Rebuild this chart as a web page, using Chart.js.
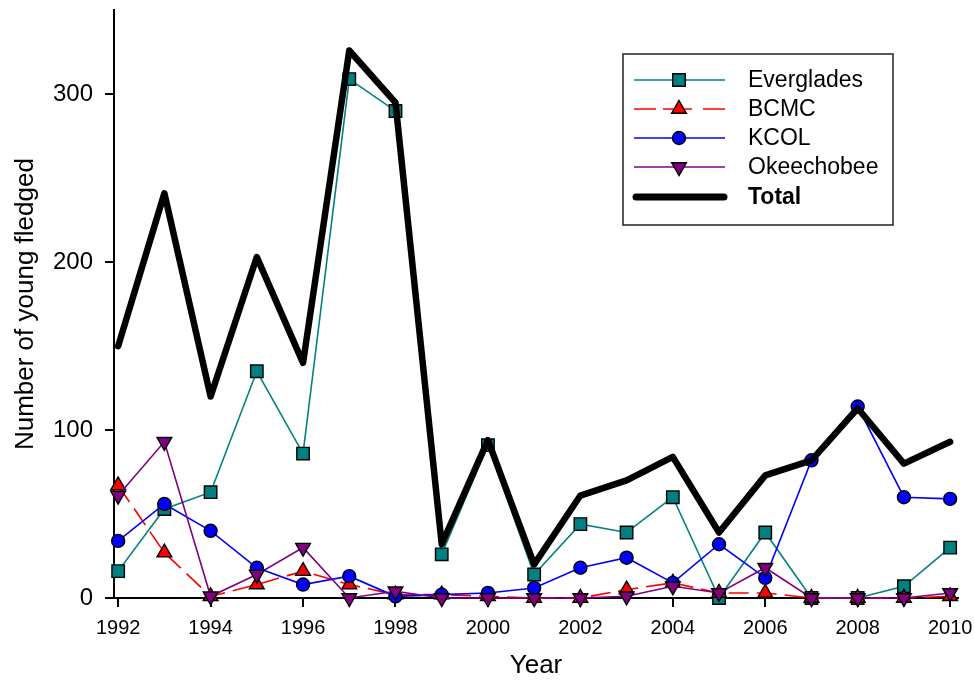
<!DOCTYPE html>
<html>
<head>
<meta charset="utf-8">
<script src="https://cdn.jsdelivr.net/npm/chart.js@4.4.1/dist/chart.umd.min.js"></script>
<style>
  html, body { margin: 0; padding: 0; background: #fff; }
  #wrap { width: 975px; height: 686px; position: relative; }
</style>
</head>
<body>
<div id="wrap"><canvas id="c" width="975" height="686"></canvas></div>
<script>
const years = [1992,1993,1994,1995,1996,1997,1998,1999,2000,2001,2002,2003,2004,2005,2006,2007,2008,2009,2010];
const everglades = [16,53,63,135,86,309,290,26,91,14,44,39,60,0,39,0,0,7,30];
const bcmc       = [67,27,1,8,16,8,2,2,1,0,0,5,9,3,3,0,0,0,1];
const kcol       = [34,56,40,18,8,13,1,2,3,6,18,24,9,32,12,82,114,60,59];
const okeechobee = [61,93,1,14,30,0,4,0,0,0,0,1,7,3,18,0,0,0,3];
const total      = [150,241,120,203,140,326,295,32,94,20,61,70,84,39,73,82,113,80,93];
const xTickLabels = [1992,1994,1996,1998,2000,2002,2004,2006,2008,2010];
const yTickLabels = [0,100,200,300];

const FONT = "'Liberation Sans', Arial, Helvetica, sans-serif";
const pts = arr => years.map((yr, i) => ({x: yr, y: arr[i]}));

const datasets = [
  { label: 'Everglades', data: pts(everglades), borderColor: '#008080', backgroundColor: '#008080',
    borderWidth: 1.6, pointStyle: 'rect', pointRadius: 8.8, pointBackgroundColor: '#008080',
    pointBorderColor: '#000', pointBorderWidth: 1.4, order: 4, clip: false },
  { label: 'BCMC', data: pts(bcmc), borderColor: '#ff0000', backgroundColor: '#ff0000',
    borderWidth: 1.6, borderDash: [20, 8], pointStyle: 'triangle', pointRadius: 8.5,
    pointBackgroundColor: '#ff0000', pointBorderColor: '#000', pointBorderWidth: 1.4, order: 3, clip: false },
  { label: 'KCOL', data: pts(kcol), borderColor: '#0000ff', backgroundColor: '#0000ff',
    borderWidth: 1.6, pointStyle: 'circle', pointRadius: 6.5, pointBackgroundColor: '#0000ff',
    pointBorderColor: '#000', pointBorderWidth: 1.4, order: 2, clip: false },
  { label: 'Okeechobee', data: pts(okeechobee), borderColor: '#800080', backgroundColor: '#800080',
    borderWidth: 1.6, pointStyle: 'triangle', pointRotation: 180, pointRadius: 8.5,
    pointBackgroundColor: '#800080', pointBorderColor: '#000', pointBorderWidth: 1.4, order: 1, clip: false },
  { label: 'Total', data: pts(total), borderColor: '#000', backgroundColor: '#000',
    borderWidth: 6.5, pointRadius: 0, borderJoinStyle: 'round', borderCapStyle: 'round', order: 0, clip: false }
];

const legendPlugin = {
  id: 'boxLegend',
  afterDraw(chart) {
    const ctx = chart.ctx;
    ctx.save();
    ctx.strokeStyle = '#222';
    ctx.lineWidth = 1.5;
    ctx.strokeRect(623, 54, 270, 171);
    const rowY = [80, 109, 138, 167, 197];
    chart.data.datasets.forEach((ds, i) => {
      const y = rowY[i];
      ctx.save();
      ctx.strokeStyle = ds.borderColor;
      ctx.lineWidth = ds.label === 'Total' ? 7 : 1.6;
      ctx.lineCap = ds.label === 'Total' ? 'round' : 'butt';
      if (ds.borderDash) ctx.setLineDash(ds.borderDash);
      ctx.beginPath();
      if (ds.label === 'Total') { ctx.moveTo(636, y); ctx.lineTo(724, y); }
      else if (ds.borderDash) { ctx.setLineDash([]); 
        ctx.moveTo(634, y); ctx.lineTo(656, y);
        ctx.moveTo(663, y); ctx.lineTo(692, y);
        ctx.moveTo(703, y); ctx.lineTo(725, y); }
      else { ctx.moveTo(634, y); ctx.lineTo(725, y); }
      ctx.stroke();
      ctx.restore();
      if (ds.pointRadius > 0) {
        ctx.save();
        ctx.fillStyle = ds.pointBackgroundColor;
        ctx.strokeStyle = ds.pointBorderColor;
        ctx.lineWidth = ds.pointBorderWidth;
        Chart.helpers.drawPoint(ctx, {pointStyle: ds.pointStyle, radius: ds.pointRadius,
          rotation: ds.pointRotation || 0, borderWidth: ds.pointBorderWidth}, 679, y);
        ctx.restore();
      }
      ctx.fillStyle = '#000';
      ctx.textBaseline = 'middle';
      ctx.textAlign = 'left';
      ctx.font = (ds.label === 'Total' ? 'bold ' : '') + '23px ' + FONT;
      ctx.fillText(ds.label, 748, y + 1);
    });
    ctx.restore();
  }
};

new Chart(document.getElementById('c'), {
  type: 'line',
  data: { datasets },
  options: {
    responsive: false,
    animation: false,
    events: [],
    layout: { padding: { left: 0, right: 17, top: 8, bottom: 0 } },
    plugins: { legend: { display: false }, tooltip: { enabled: false } },
    scales: {
      x: {
        type: 'linear', min: 1991.91, max: 2010.17,
        afterBuildTicks: s => { s.ticks = xTickLabels.map(v => ({value: v})); },
        afterFit: s => { s.height = 88; s.paddingLeft = 0; s.paddingRight = 0; },
        ticks: { callback: v => String(v), color: '#000', padding: 9, maxRotation: 0, autoSkip: false,
                 font: { family: FONT, size: 20 } },
        grid: { drawOnChartArea: false, drawTicks: true, tickLength: 9, color: '#000', lineWidth: 2 },
        border: { display: true, color: '#000', width: 2 },
        title: { display: true, text: 'Year', color: '#000', font: { family: FONT, size: 26 },
                 padding: { top: 0, bottom: 5 } }
      },
      y: {
        type: 'linear', min: 0, max: 350,
        afterBuildTicks: s => { s.ticks = yTickLabels.map(v => ({value: v})); },
        afterFit: s => { s.width = 114; s.paddingTop = 0; s.paddingBottom = 0; },
        ticks: { callback: v => String(v), color: '#000', padding: 12, font: { family: FONT, size: 24 } },
        grid: { drawOnChartArea: false, drawTicks: true, tickLength: 9, color: '#000', lineWidth: 2 },
        border: { display: true, color: '#000', width: 2 },
        title: { display: true, text: 'Number of young fledged', color: '#000',
                 font: { family: FONT, size: 26 }, padding: { top: 10, bottom: 0 } }
      }
    }
  },
  plugins: [legendPlugin]
});
</script>
</body>
</html>
